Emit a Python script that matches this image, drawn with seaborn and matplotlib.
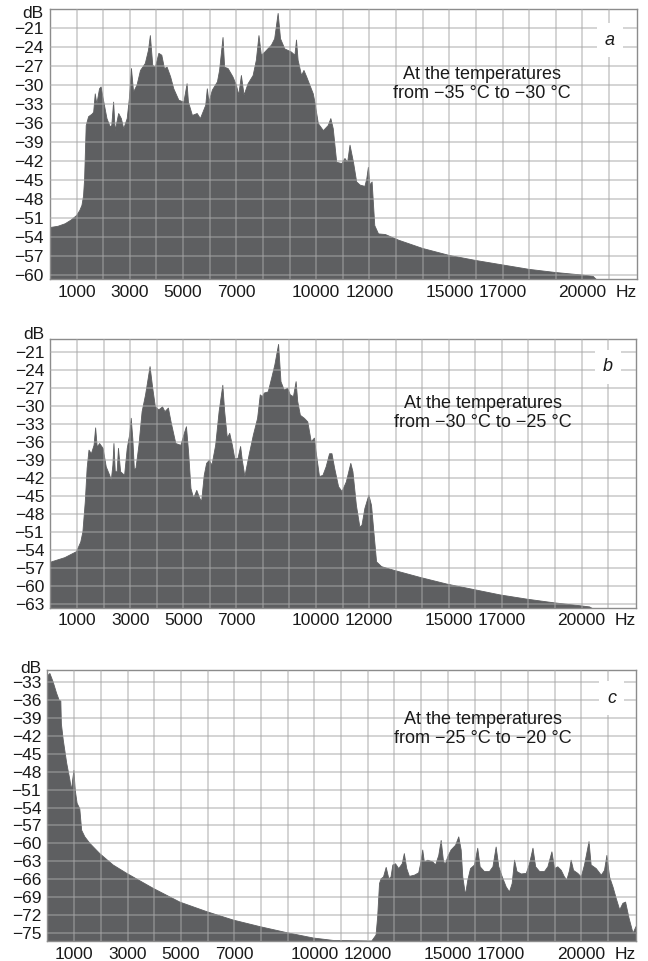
import numpy as np
import matplotlib
matplotlib.use("Agg")
import matplotlib.pyplot as plt
import seaborn as sns

# ---------------- data (frequency in kHz, level in dB) ----------------
freq_a = [0.0, 0.3, 0.57, 0.8, 1.0, 1.12, 1.2, 1.26, 1.3, 1.36, 1.45, 1.58, 1.64, 1.70, 1.76, 1.86,
          1.92, 2.0, 2.14, 2.26, 2.32, 2.39, 2.45, 2.58, 2.68, 2.77, 2.9, 2.98, 3.06, 3.14, 3.27,
          3.4, 3.58, 3.7, 3.77, 3.86, 3.96, 4.09, 4.2, 4.3, 4.4, 4.53, 4.65, 4.84, 5.03, 5.15, 5.2,
          5.35, 5.53, 5.65, 5.85, 5.91, 5.97, 6.1, 6.29, 6.37, 6.5, 6.56, 6.69, 6.87, 7.0, 7.09,
          7.19, 7.29, 7.44, 7.63, 7.75, 7.85, 7.94, 8.07, 8.32, 8.44, 8.57, 8.66, 8.82, 9.07, 9.2,
          9.26, 9.32, 9.45, 9.54, 9.64, 9.76, 9.89, 9.95, 10.08, 10.27, 10.45, 10.55, 10.64, 10.77,
          10.96, 11.08, 11.18, 11.27, 11.4, 11.52, 11.65, 11.83, 11.9, 11.96, 12.02, 12.1, 12.2,
          12.34, 12.6, 13.1, 14.0, 15.0, 16.0, 17.0, 18.0, 19.0, 20.0, 20.4, 20.6, 22.05]
db_a = [-52.5, -52.3, -51.9, -51.3, -50.6, -49.8, -49.0, -47.5, -44.8, -36.4, -35.0, -34.6, -34.3,
        -31.4, -33.0, -30.6, -30.3, -32.2, -35.3, -36.6, -36.4, -32.7, -37.2, -34.5, -35.3, -36.9,
        -35.3, -32.2, -27.4, -31.1, -30.0, -27.7, -26.6, -24.5, -22.2, -26.9, -27.2, -25.0, -25.3,
        -27.4, -27.2, -28.7, -30.6, -32.4, -32.7, -29.8, -32.7, -34.8, -34.5, -35.3, -33.2, -30.6,
        -32.7, -30.8, -29.5, -27.7, -22.5, -27.2, -27.4, -28.7, -30.0, -31.6, -28.5, -31.6, -29.8,
        -28.5, -26.1, -22.2, -25.3, -24.8, -23.7, -22.7, -18.7, -22.7, -24.3, -24.8, -25.3, -22.9,
        -26.1, -28.5, -27.7, -28.7, -30.0, -31.4, -32.7, -36.1, -37.2, -36.4, -35.3, -36.9, -42.2,
        -42.4, -41.6, -42.2, -39.5, -42.2, -45.3, -45.8, -46.0, -44.8, -43.0, -45.8, -45.3, -52.2,
        -53.5, -53.6, -54.5, -55.8, -56.9, -57.7, -58.4, -59.1, -59.6, -60.0, -60.2, -61.0, -61.0]

freq_b = [0.0, 0.04, 0.54, 0.98, 1.14, 1.22, 1.31, 1.38, 1.45, 1.54, 1.64, 1.70, 1.76, 1.85, 1.98,
          2.1, 2.23, 2.29, 2.35, 2.39, 2.44, 2.51, 2.56, 2.64, 2.79, 2.89, 2.98, 3.04, 3.1, 3.16,
          3.22, 3.33, 3.45, 3.58, 3.66, 3.75, 3.85, 3.95, 4.08, 4.22, 4.31, 4.44, 4.54, 4.72, 4.91,
          5.04, 5.12, 5.2, 5.29, 5.39, 5.51, 5.6, 5.69, 5.79, 5.88, 5.98, 6.08, 6.22, 6.35, 6.49,
          6.56, 6.66, 6.75, 6.85, 6.94, 7.06, 7.16, 7.22, 7.32, 7.48, 7.64, 7.8, 7.9, 7.98, 8.05,
          8.2, 8.33, 8.45, 8.59, 8.68, 8.8, 8.93, 9.03, 9.15, 9.25, 9.31, 9.41, 9.56, 9.69, 9.82,
          9.94, 10.0, 10.13, 10.26, 10.38, 10.51, 10.6, 10.7, 10.85, 10.98, 11.14, 11.31, 11.39,
          11.52, 11.65, 11.73, 11.84, 11.99, 12.09, 12.19, 12.28, 12.47, 12.93, 13.93, 14.93,
          15.93, 16.93, 17.93, 18.93, 19.93, 20.3, 20.5, 22.05]
db_b = [-56.1, -56.0, -55.3, -54.3, -52.7, -51.0, -46.0, -40.4, -37.4, -38.0, -36.6, -33.7, -36.9,
        -36.3, -37.1, -40.2, -41.6, -42.4, -39.9, -36.3, -41.0, -41.0, -37.1, -41.0, -41.6, -37.1,
        -34.9, -32.1, -35.5, -40.7, -40.4, -36.6, -31.0, -28.2, -26.0, -23.5, -27.1, -30.2, -30.7,
        -30.2, -31.0, -30.4, -32.7, -36.3, -36.6, -34.6, -33.5, -37.7, -43.8, -45.4, -44.1, -45.2,
        -46.0, -41.6, -39.6, -39.1, -39.9, -36.6, -31.0, -26.6, -31.0, -35.4, -34.6, -36.6, -38.8,
        -38.8, -36.8, -39.0, -41.8, -38.2, -34.9, -32.1, -28.2, -28.5, -27.9, -27.7, -25.4, -23.2,
        -19.8, -26.0, -27.4, -27.1, -28.2, -28.5, -26.0, -29.3, -31.6, -32.1, -32.7, -36.0, -35.4,
        -37.6, -41.8, -41.6, -40.2, -38.0, -38.0, -40.4, -43.5, -44.3, -42.7, -39.6, -41.0, -46.6,
        -50.2, -49.9, -47.1, -44.9, -46.6, -51.6, -56.0, -56.8, -57.4, -58.6, -59.7, -60.6, -61.5,
        -62.2, -62.8, -63.3, -63.5, -64.0, -64.0]

freq_c = [0.0, 0.09, 0.21, 0.34, 0.44, 0.5, 0.52, 0.59, 0.72, 0.84, 0.9, 0.94, 0.99, 1.04, 1.11,
          1.21, 1.28, 1.4, 1.59, 1.96, 2.46, 2.97, 3.96, 4.96, 5.97, 6.96, 7.96, 8.96, 9.96, 10.7,
          12.15, 12.31, 12.37, 12.44, 12.5, 12.59, 12.69, 12.79, 12.87, 12.94, 13.04, 13.16, 13.29,
          13.37, 13.46, 13.56, 13.75, 13.91, 13.98, 14.06, 14.12, 14.25, 14.44, 14.54, 14.66, 14.75,
          14.84, 14.91, 15.0, 15.12, 15.29, 15.41, 15.5, 15.56, 15.66, 15.75, 15.85, 16.0, 16.12,
          16.21, 16.37, 16.56, 16.69, 16.81, 16.91, 17.04, 17.19, 17.31, 17.41, 17.5, 17.59, 17.75,
          17.94, 18.06, 18.19, 18.29, 18.44, 18.62, 18.75, 18.9, 19.0, 19.12, 19.25, 19.37, 19.46,
          19.56, 19.62, 19.71, 19.87, 20.0, 20.12, 20.29, 20.37, 20.56, 20.75, 20.87, 20.96, 21.06,
          21.19, 21.31, 21.44, 21.56, 21.66, 21.79, 21.94, 22.05]
db_c = [-32.0, -31.6, -33.0, -34.9, -36.1, -36.2, -40.0, -42.7, -46.6, -49.4, -51.1, -49.5, -47.8,
        -51.1, -53.3, -54.2, -57.8, -58.9, -60.0, -61.7, -63.6, -65.0, -67.5, -69.8, -71.4, -72.8,
        -73.9, -74.9, -75.8, -76.2, -76.3, -75.3, -72.3, -66.7, -65.9, -65.6, -64.0, -65.9, -65.6,
        -63.6, -63.4, -64.2, -63.4, -61.7, -64.2, -65.5, -65.3, -64.9, -63.4, -61.1, -63.1, -62.8,
        -63.1, -63.6, -62.0, -59.5, -63.1, -63.4, -62.2, -61.1, -60.3, -58.9, -61.1, -65.6, -68.6,
        -66.1, -64.2, -63.6, -60.8, -63.9, -64.7, -64.7, -63.9, -60.6, -63.9, -65.6, -67.3, -68.1,
        -66.7, -62.8, -64.7, -65.1, -65.0, -63.4, -60.8, -63.9, -64.7, -64.7, -63.9, -61.4, -64.2,
        -63.9, -64.5, -65.6, -66.1, -64.5, -62.8, -64.5, -65.0, -65.6, -63.6, -59.7, -63.6, -64.2,
        -65.3, -64.5, -62.0, -65.6, -67.3, -69.2, -71.1, -70.0, -69.8, -72.5, -75.0, -73.9]

x_tick_values = [1000, 3000, 5000, 7000, 10000, 12000, 15000, 17000, 20000]
x_tick_labels = ["1000", "3000", "5000", "7000", "10000", "12000", "15000", "17000", "20000"]
y_ticks_a = list(range(-21, -61, -3))
y_ticks_b = list(range(-21, -64, -3))
y_ticks_c = list(range(-33, -76, -3))
panel_letters = ["a", "b", "c"]
captions = ["At the temperatures\nfrom \u221235 \u00b0C to \u221230 \u00b0C",
            "At the temperatures\nfrom \u221230 \u00b0C to \u221225 \u00b0C",
            "At the temperatures\nfrom \u221225 \u00b0C to \u221220 \u00b0C"]

# ---------------- style ----------------
sns.set_theme(style="white")
plt.rcParams["font.family"] = ["Liberation Sans", "DejaVu Sans"]
plt.rcParams["axes.unicode_minus"] = True

FILL = "#5e5f61"
GRID = "#a7a7a7"
SPINE = "#8c8c8c"

fig = plt.figure(figsize=(6.48, 9.61), dpi=100)
rects = [
    [0.07716, 0.70916, 0.90586, 0.28148],
    [0.07793, 0.36784, 0.90355, 0.27940],
    [0.07330, 0.02081, 0.90818, 0.28148],
]
ylims = [(-60.7, -18.0), (-63.6, -18.9), (-76.3, -31.1)]
yticks = [y_ticks_a, y_ticks_b, y_ticks_c]
series = [(freq_a, db_a), (freq_b, db_b), (freq_c, db_c)]
db_pos = [0.985, 1.015, 1.008]
cap_pos = [(0.736, 0.722), (0.738, 0.724), (0.740, 0.784)]
letter_pos = [(0.954, 0.885), (0.952, 0.896), (0.959, 0.898)]

grid_x = np.arange(1000, 22000, 1000)
label_map = dict(zip(x_tick_values, x_tick_labels))

for i in range(3):
    ax = fig.add_axes(rects[i])
    f, d = series[i]
    fx = np.array(f) * 1000.0
    dy = np.array(d)
    ax.fill_between(fx, dy, -200, color=FILL, linewidth=0, zorder=1)
    sns.lineplot(x=fx, y=dy, ax=ax, color=FILL, linewidth=0.6, estimator=None,
                 sort=False, zorder=1.5)
    ax.set_xlim(0, 22050)
    ax.set_ylim(*ylims[i])
    ax.set_xticks(grid_x)
    ax.set_xticklabels([label_map.get(int(v), "") for v in grid_x])
    ax.set_yticks(yticks[i])
    ax.set_yticklabels([f"\u2212{abs(v)}" for v in yticks[i]])
    ax.set_axisbelow(False)
    ax.grid(True, color=GRID, alpha=0.62, linewidth=1.1)
    ax.tick_params(axis="both", length=0, labelsize=12.5, colors="#1a1a1a")
    ax.tick_params(axis="x", pad=4)
    ax.tick_params(axis="y", pad=4.5)
    for s in ax.spines.values():
        s.set_color(SPINE)
        s.set_linewidth(1.0)
        s.set_visible(True)
    ax.set_xlabel("")
    ax.set_ylabel("")
    # unit labels
    ax.annotate("dB", xy=(0, db_pos[i]), xycoords="axes fraction", xytext=(-4.5, 0),
                textcoords="offset points", ha="right", va="center", fontsize=12.5,
                color="#1a1a1a", annotation_clip=False)
    ax.annotate("Hz", xy=(1, 0), xycoords="axes fraction", xytext=(0, -4),
                textcoords="offset points", ha="right", va="top", fontsize=12.5,
                color="#1a1a1a", annotation_clip=False)
    ax.text(cap_pos[i][0], cap_pos[i][1], captions[i], transform=ax.transAxes,
            ha="center", va="center", fontsize=13, color="#1a1a1a", linespacing=1.15,
            zorder=4)
    ax.text(letter_pos[i][0], letter_pos[i][1], panel_letters[i], transform=ax.transAxes,
            ha="center", va="center", fontsize=13, style="italic", color="#1a1a1a",
            zorder=4, bbox=dict(boxstyle="square,pad=0.45", facecolor="white",
                                edgecolor="none"))

fig.savefig("out.png", dpi=100)
